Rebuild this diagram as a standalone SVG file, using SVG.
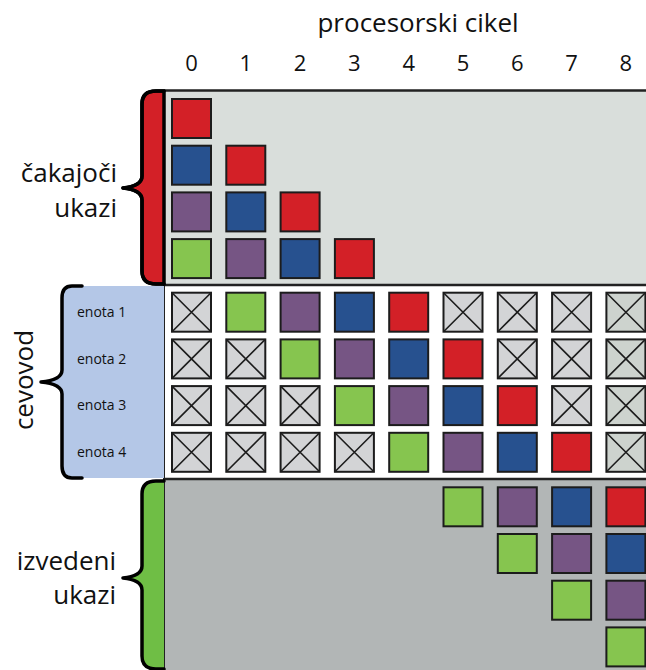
<svg xmlns="http://www.w3.org/2000/svg" xmlns:xlink="http://www.w3.org/1999/xlink" width="646" height="670" viewBox="0 0 646 670">
<style>
text{font-family:"Open Sans","Noto Sans","DejaVu Sans",sans-serif;fill:#111}
.big{font-size:26px}
.num{font-size:22px;text-anchor:middle}
.lab{font-size:14px}
.c{stroke:#1c1c1c;stroke-width:2}
.r{fill:#d32027}.b{fill:#27518f}.p{fill:#765584}.g{fill:#86c54f}
.x{fill:#d3d4d6}.x8{fill:#cdd3ce}
.brace{stroke:#000;stroke-width:3.5;stroke-linejoin:round;stroke-linecap:round}
.xl{stroke:#1c1c1c;stroke-width:1.6}
</style>
<defs>
<g id="xc"><rect class="c x" width="39" height="39"/><path class="xl" d="M0,0L39,39M39,0L0,39"/></g>
<g id="xc8"><rect class="c x8" width="39" height="39"/><path class="xl" d="M0,0L39,39M39,0L0,39"/></g>
</defs>
<rect width="646" height="670" fill="#fff"/>
<g id="panels">
<rect x="164" y="90.5" width="484" height="194.5" fill="#d9dedb"/>
<rect x="164" y="285" width="484" height="194" fill="#fff"/>
<rect x="164" y="479" width="484" height="193" fill="#b2b6b6"/>
<path d="M164,90.5H648M164,285H648M164,479H648" stroke="#222" stroke-width="2.5" fill="none"/>
<path d="M164,90V670" stroke="#222" stroke-width="2" fill="none"/>
</g>
<g id="brace-waiting">
<path class="brace r" d="M164,91L156,91Q142,91 142,104L142,176Q142,186 123,188Q142,190 142,200L142,271Q142,284 156,284L164,284Z" stroke="none"/>
<path class="brace" fill="none" d="M164,91L156,91Q142,91 142,104L142,176Q142,186 123,188Q142,190 142,200L142,271Q142,284 156,284L164,284"/>
<text class="big" x="117" y="182" text-anchor="end">čakajoči</text>
<text class="big" x="117" y="217" text-anchor="end">ukazi</text>
</g>
<g id="brace-pipeline">
<path fill="#b4c7e7" d="M82,286L72,286Q62,286 62,298L62,370Q62,380 41,382Q62,384 62,394L62,466Q62,478 72,478L82,478L164,478L164,286Z"/>
<path class="brace" fill="none" d="M82,286L72,286Q62,286 62,298L62,370Q62,380 41,382Q62,384 62,394L62,466Q62,478 72,478L82,478"/>
<text class="big" transform="translate(33,380) rotate(-90)" text-anchor="middle">cevovod</text>
<text class="lab" x="77" y="317">enota 1</text>
<text class="lab" x="77" y="363.5">enota 2</text>
<text class="lab" x="77" y="410">enota 3</text>
<text class="lab" x="77" y="457">enota 4</text>
</g>
<g id="brace-done">
<path fill="#6fbe45" d="M164,481L156,481Q142,481 142,494L142,566Q142,576 123,578Q142,580 142,590L142,656Q142,669 156,669L164,669Z"/>
<path class="brace" fill="none" d="M164,481L156,481Q142,481 142,494L142,566Q142,576 123,578Q142,580 142,590L142,656Q142,669 156,669L164,669"/>
<text class="big" x="116" y="570" text-anchor="end">izvedeni</text>
<text class="big" x="116" y="603.5" text-anchor="end">ukazi</text>
</g>
<g id="axis">
<text class="big" x="418" y="32" text-anchor="middle">procesorski cikel</text>
<text class="num" x="191.5" y="71">0</text>
<text class="num" x="245.8" y="71">1</text>
<text class="num" x="300.1" y="71">2</text>
<text class="num" x="354.4" y="71">3</text>
<text class="num" x="408.7" y="71">4</text>
<text class="num" x="463" y="71">5</text>
<text class="num" x="517.3" y="71">6</text>
<text class="num" x="571.6" y="71">7</text>
<text class="num" x="625.9" y="71">8</text>
</g>
<g id="waiting">
<rect class="c r" x="172" y="99" width="39" height="39"/>
<rect class="c b" x="172" y="145.7" width="39" height="39"/>
<rect class="c r" x="226.3" y="145.7" width="39" height="39"/>
<rect class="c p" x="172" y="192.4" width="39" height="39"/>
<rect class="c b" x="226.3" y="192.4" width="39" height="39"/>
<rect class="c r" x="280.6" y="192.4" width="39" height="39"/>
<rect class="c g" x="172" y="239.1" width="39" height="39"/>
<rect class="c p" x="226.3" y="239.1" width="39" height="39"/>
<rect class="c b" x="280.6" y="239.1" width="39" height="39"/>
<rect class="c r" x="334.9" y="239.1" width="39" height="39"/>
</g>
<g id="pipeline">
<use xlink:href="#xc" x="172" y="292.7"/>
<rect class="c g" x="226.3" y="292.7" width="39" height="39"/>
<rect class="c p" x="280.6" y="292.7" width="39" height="39"/>
<rect class="c b" x="334.9" y="292.7" width="39" height="39"/>
<rect class="c r" x="389.2" y="292.7" width="39" height="39"/>
<use xlink:href="#xc" x="443.5" y="292.7"/>
<use xlink:href="#xc" x="497.8" y="292.7"/>
<use xlink:href="#xc" x="552.1" y="292.7"/>
<use xlink:href="#xc8" x="606.4" y="292.7"/>

<use xlink:href="#xc" x="172" y="339.4"/>
<use xlink:href="#xc" x="226.3" y="339.4"/>
<rect class="c g" x="280.6" y="339.4" width="39" height="39"/>
<rect class="c p" x="334.9" y="339.4" width="39" height="39"/>
<rect class="c b" x="389.2" y="339.4" width="39" height="39"/>
<rect class="c r" x="443.5" y="339.4" width="39" height="39"/>
<use xlink:href="#xc" x="497.8" y="339.4"/>
<use xlink:href="#xc" x="552.1" y="339.4"/>
<use xlink:href="#xc8" x="606.4" y="339.4"/>

<use xlink:href="#xc" x="172" y="386.1"/>
<use xlink:href="#xc" x="226.3" y="386.1"/>
<use xlink:href="#xc" x="280.6" y="386.1"/>
<rect class="c g" x="334.9" y="386.1" width="39" height="39"/>
<rect class="c p" x="389.2" y="386.1" width="39" height="39"/>
<rect class="c b" x="443.5" y="386.1" width="39" height="39"/>
<rect class="c r" x="497.8" y="386.1" width="39" height="39"/>
<use xlink:href="#xc" x="552.1" y="386.1"/>
<use xlink:href="#xc8" x="606.4" y="386.1"/>

<use xlink:href="#xc" x="172" y="432.8"/>
<use xlink:href="#xc" x="226.3" y="432.8"/>
<use xlink:href="#xc" x="280.6" y="432.8"/>
<use xlink:href="#xc" x="334.9" y="432.8"/>
<rect class="c g" x="389.2" y="432.8" width="39" height="39"/>
<rect class="c p" x="443.5" y="432.8" width="39" height="39"/>
<rect class="c b" x="497.8" y="432.8" width="39" height="39"/>
<rect class="c r" x="552.1" y="432.8" width="39" height="39"/>
<use xlink:href="#xc8" x="606.4" y="432.8"/>
</g>
<g id="done">
<rect class="c g" x="443.5" y="487.3" width="39" height="39"/>
<rect class="c p" x="497.8" y="487.3" width="39" height="39"/>
<rect class="c b" x="552.1" y="487.3" width="39" height="39"/>
<rect class="c r" x="606.4" y="487.3" width="39" height="39"/>
<rect class="c g" x="497.8" y="534" width="39" height="39"/>
<rect class="c p" x="552.1" y="534" width="39" height="39"/>
<rect class="c b" x="606.4" y="534" width="39" height="39"/>
<rect class="c g" x="552.1" y="580.7" width="39" height="39"/>
<rect class="c p" x="606.4" y="580.7" width="39" height="39"/>
<rect class="c g" x="606.4" y="627.4" width="39" height="39"/>
</g>
</svg>
